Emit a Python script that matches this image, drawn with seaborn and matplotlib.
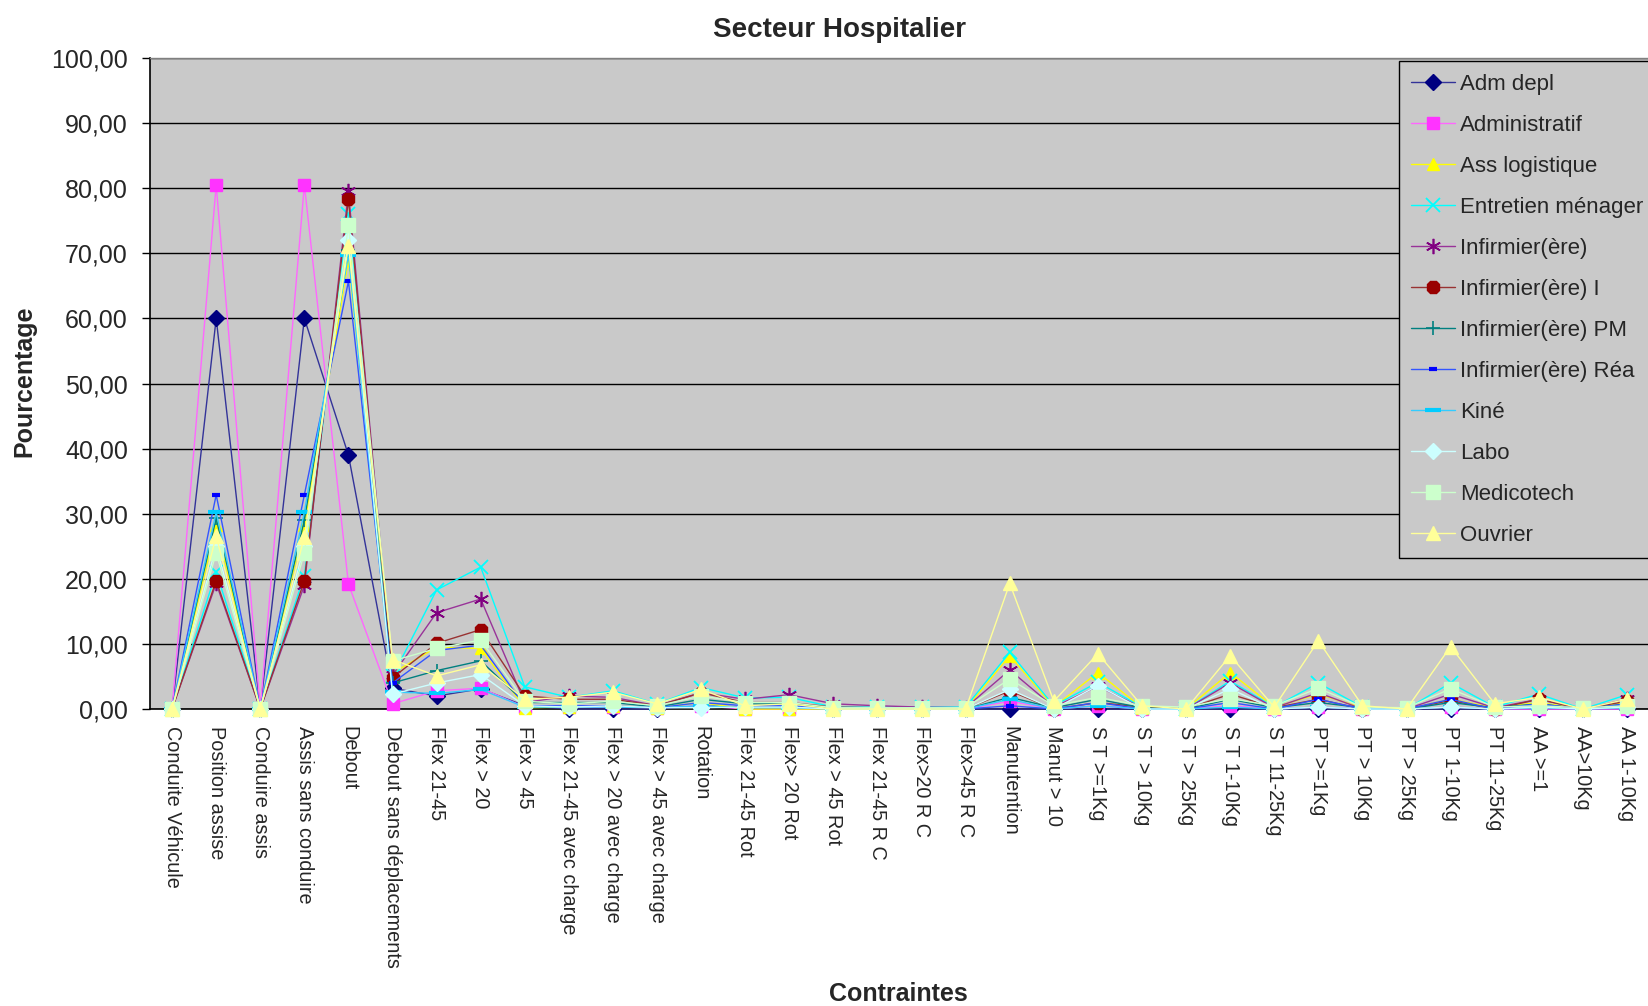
import numpy as np
import pandas as pd
import matplotlib
matplotlib.use("Agg")
import matplotlib.pyplot as plt
import seaborn as sns

categories = ["Conduite Véhicule", "Position assise", "Conduire assis", "Assis sans conduire",
              "Debout", "Debout sans déplacements", "Flex 21-45", "Flex > 20", "Flex > 45",
              "Flex 21-45 avec charge", "Flex > 20 avec charge", "Flex > 45 avec charge",
              "Rotation", "Flex 21-45 Rot", "Flex> 20 Rot", "Flex > 45 Rot", "Flex 21-45 R C",
              "Flex>20 R C", "Flex>45 R C", "Manutention", "Manut > 10", "S T >=1Kg",
              "S T > 10Kg", "S T > 25Kg", "S T 1-10Kg", "S T 11-25Kg", "PT >=1Kg", "PT > 10Kg",
              "PT > 25Kg", "PT 1-10Kg", "PT 11-25Kg", "AA >=1", "AA>10Kg", "AA 1-10Kg"]

adm_depl = [0, 60, 0, 60, 39, 3.2, 2, 3.1, 0.5, 0, 0, 0, 0.5, 0.3, 0.3, 0, 0, 0, 0, 0, 0, 0, 0, 0, 0, 0, 0, 0, 0, 0, 0, 0, 0, 0]
administratif = [0, 80.5, 0, 80.5, 19.2, 0.8, 2.8, 3.2, 0.3, 0.3, 0.3, 0.2, 0.5, 0, 0, 0, 0, 0, 0, 1.2, 0, 0.5, 0, 0, 0.5, 0, 0.3, 0, 0, 0.3, 0, 0, 0, 0]
ass_logistique = [0, 28.2, 0, 28.2, 69, 5.5, 9.5, 9.3, 0.2, 0.3, 0.5, 0.2, 1, 0, 0, 0, 0, 0, 0, 8.2, 0.3, 5.6, 0.2, 0, 5.6, 0.3, 2.3, 0.2, 0, 1.5, 0.2, 1, 0, 1]
entretien = [0, 21, 0, 20.5, 76, 5, 18.3, 21.8, 3.4, 1.8, 2.8, 0.8, 3.3, 1.7, 1.8, 0.3, 0.3, 0.3, 0.3, 8.7, 0.5, 4.1, 0.3, 0, 4.3, 0.3, 4.0, 0.3, 0, 4.0, 0.3, 2.3, 0, 2.2]
infirmier = [0, 19.3, 0, 19, 79.5, 5.2, 14.8, 16.9, 1, 2, 1.8, 0.5, 2.5, 1.5, 2.2, 0.8, 0.5, 0.3, 0.2, 6, 0.3, 3.5, 0.2, 0, 4, 0.2, 2.5, 0, 0, 2.3, 0.2, 1.5, 0, 1.5]
infirmier_i = [0, 19.7, 0, 19.7, 78.3, 4.8, 10.1, 12.2, 2, 1.5, 1.5, 0.5, 2.5, 1, 1, 0.3, 0.2, 0, 0, 2.8, 0, 1, 0.3, 0, 2.3, 0.2, 1.5, 0, 0, 1.3, 0, 1.5, 0, 1.2]
infirmier_pm = [0, 29.3, 0, 29, 70.5, 4, 5.9, 7.4, 1, 1, 1, 0.3, 1.5, 0.8, 0.8, 0.2, 0.2, 0.2, 0, 1.8, 0.2, 1.5, 0.2, 0, 1.5, 0.2, 1, 0.2, 0, 1, 0.2, 0.8, 0, 0.8]
infirmier_rea = [0, 32.9, 0, 32.9, 65.7, 4, 9, 9.8, 0.5, 0.5, 0.5, 0.2, 1, 0.5, 0.5, 0, 0, 0, 0, 0.5, 0, 1, 0, 0, 1, 0, 1.5, 0, 0, 1.5, 0, 0.8, 0, 0.8]
kine = [0, 30.2, 0, 30.2, 69.8, 2.6, 2.4, 3, 0.3, 0.3, 0.3, 0.2, 0.5, 0.2, 0.2, 0, 0, 0, 0, 1.5, 0, 0.5, 0, 0, 0.3, 0, 0.3, 0, 0, 0.3, 0, 0.2, 0, 0.2]
labo = [0, 25, 0, 25, 72, 2.3, 4, 5.3, 0.5, 0.3, 0.5, 0.2, 0.2, 0.3, 0.3, 0, 0, 0, 0, 3, 0, 3.6, 0, 0, 3.1, 0, 0.3, 0, 0, 0.3, 0, 0.3, 0, 0.3]
medicotech = [0, 24, 0, 24, 74.3, 7.4, 9.3, 10.6, 1.2, 0.8, 1.2, 0.5, 2, 1, 1, 0.2, 0.2, 0.2, 0.2, 4.6, 0.5, 1.8, 0.5, 0.3, 1.6, 0.5, 3.2, 0.3, 0.2, 3.1, 0.3, 0.5, 0.2, 0.5]
ouvrier = [0, 26.6, 0, 26.5, 71.2, 7.6, 5.1, 6.8, 1.5, 1.8, 2.6, 0.8, 3, 0.5, 0.8, 0, 0, 0, 0, 19.3, 1.2, 8.5, 0.5, 0, 8.2, 0.3, 10.5, 0.5, 0, 9.6, 0.8, 1.8, 0, 1.5]

series_names = ["Adm depl", "Administratif", "Ass logistique", "Entretien ménager",
                "Infirmier(ère)", "Infirmier(ère) I", "Infirmier(ère) PM", "Infirmier(ère) Réa",
                "Kiné", "Labo", "Medicotech", "Ouvrier"]
series_values = [adm_depl, administratif, ass_logistique, entretien, infirmier, infirmier_i,
                 infirmier_pm, infirmier_rea, kine, labo, medicotech, ouvrier]
y_ticks = [0, 10, 20, 30, 40, 50, 60, 70, 80, 90, 100]

# styles: (line colour, marker, marker colour, marker size, marker edge width)
styles = {
    "Adm depl": ("#333399", "D", "#000080", 8, 1),
    "Administratif": ("#FF66FF", "s", "#FF33FF", 9, 1),
    "Ass logistique": ("#FFFF00", "^", "#FFFF00", 9, 1),
    "Entretien ménager": ("#00FFFF", "x", "#00FFFF", 10, 1.3),
    "Infirmier(ère)": ("#993399", (6, 2, 0), "#800080", 11, 1.2),
    "Infirmier(ère) I": ("#993333", "8", "#990000", 10, 1),
    "Infirmier(ère) PM": ("#008080", "+", "#008080", 10, 1.2),
    "Infirmier(ère) Réa": ("#3355FF", "_", "#0000FF", 6, 3),
    "Kiné": ("#33CCFF", "_", "#00CCFF", 12, 3),
    "Labo": ("#CCFFFF", "D", "#CCFFFF", 8, 1),
    "Medicotech": ("#CCFFCC", "s", "#CCFFCC", 10, 1),
    "Ouvrier": ("#FFFF99", "^", "#FFFF99", 10, 1),
}

sns.set_style("white")
plt.rcParams["font.family"] = ["Liberation Sans", "DejaVu Sans"]

fig = plt.figure(figsize=(16.49, 10.06), dpi=100)
ax = fig.add_axes([0.091, 0.2952, 0.909, 0.6471])
ax.set_facecolor("#C9C9C9")

xpos = np.arange(len(categories))
for name, vals in zip(series_names, series_values):
    lc, mk, mc, ms, mew = styles[name]
    df = pd.DataFrame({"x": xpos, "y": vals})
    sns.lineplot(data=df, x="x", y="y", ax=ax, color=lc, linewidth=1.0,
                 marker=mk, markersize=ms, markerfacecolor=mc, markeredgecolor=mc,
                 markeredgewidth=mew, label=name, sort=False, estimator=None,
                 clip_on=False, zorder=3)

ax.set_xlim(-0.5, len(categories) - 0.5)
ax.set_ylim(0, 100)
ax.set_yticks(y_ticks)
ax.set_yticklabels([f"{v:.2f}".replace(".", ",") for v in y_ticks], fontsize=18)
ax.yaxis.grid(True, color="black", linewidth=1.0)
ax.set_axisbelow(True)
ax.set_xticks(xpos)
ax.set_xticklabels(categories, rotation=270, fontsize=14.3, ha="center", va="top")
ax.set_xticks(np.arange(-0.5, len(categories), 1), minor=True)
ax.tick_params(axis="x", which="major", length=0, pad=12)
ax.tick_params(axis="x", which="minor", length=5, width=1, color="black", direction="out")
ax.tick_params(axis="y", which="major", length=6, width=1, color="black", direction="out", pad=10, left=True)
ax.set_xlabel("")
ax.set_ylabel("")

for s in ["left", "bottom"]:
    ax.spines[s].set_color("black")
    ax.spines[s].set_linewidth(1.2)
ax.spines["top"].set_color("#808080")
ax.spines["top"].set_linewidth(1.0)
ax.spines["right"].set_visible(False)

leg = ax.legend(loc="upper left", bbox_to_anchor=(0.833, 0.995), fontsize=16,
                frameon=True, fancybox=False, facecolor="#C9C9C9", edgecolor="black",
                framealpha=1, numpoints=1, handlelength=2.0, handletextpad=0.2,
                labelspacing=0.9, borderpad=0.55, borderaxespad=0)
leg.get_frame().set_linewidth(1.0)
leg.set_zorder(10)

fig.text(0.509, 0.970, "Secteur Hospitalier", fontsize=20, fontweight="bold",
         ha="center", va="center")
fig.text(0.545, 0.012, "Contraintes", fontsize=18, fontweight="bold",
         ha="center", va="center")
fig.text(0.015, 0.621, "Pourcentage", fontsize=18, fontweight="bold",
         ha="center", va="center", rotation=90)

fig.savefig("out.png", dpi=100, facecolor="white")
